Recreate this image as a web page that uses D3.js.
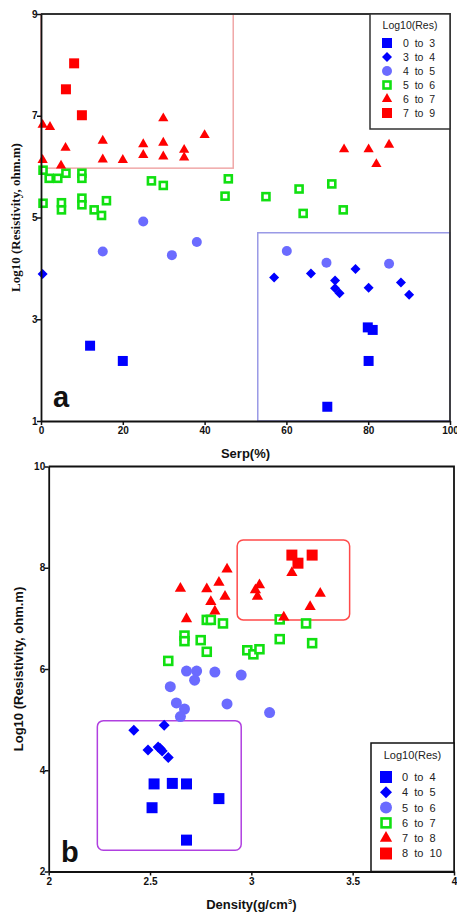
<!DOCTYPE html>
<html>
<head>
<meta charset="utf-8">
<script src="https://cdn.jsdelivr.net/npm/d3@7"></script>
<style>
  body { margin: 0; background: #fff; }
  text { font-family: Arial, "Liberation Sans", sans-serif; }
</style>
</head>
<body>
<svg class="figure" width="457" height="913"></svg>
<script>
// ---- panel a : Serp(%) vs Log10(Res)
var aLegend = ["0  to  3", "3  to  4", "4  to  5", "5  to  6", "6  to  7", "7  to  9"];
var aXTicks = [0, 20, 40, 60, 80, 100];
var aYTicks = [1, 3, 5, 7, 9];
var aRes0to3 = [[12, 2.48], [20, 2.18], [79.9, 2.84], [81.1, 2.79], [80.1, 2.18], [70, 1.28]];
var aRes3to4 = [[0.4, 3.89], [57, 3.82], [66, 3.9], [71.9, 3.76], [71.9, 3.61], [73, 3.51], [76.9, 3.99], [80.1, 3.62], [88, 3.72], [90, 3.48]];
var aRes4to5 = [[25, 4.92], [15.1, 4.33], [32, 4.26], [38.1, 4.52], [60.1, 4.34], [69.8, 4.11], [85.1, 4.09]];
var aRes5to6 = [[0.5, 5.93], [2, 5.77], [4.1, 5.77], [6.1, 5.87], [10, 5.87], [10, 5.77], [0.5, 5.28], [5, 5.29], [5, 5.15],
  [10, 5.38], [10, 5.25], [13, 5.15], [14.8, 5.04], [16, 5.33], [27, 5.72], [29.9, 5.63], [45.8, 5.76], [45, 5.42],
  [55, 5.41], [63.1, 5.56], [71.1, 5.66], [64.1, 5.08], [73.9, 5.15]];
var aRes6to7 = [[0.4, 6.82], [2.2, 6.78], [6, 6.37], [0.4, 6.13], [4.9, 6.02], [15.1, 6.51], [15.1, 6.14], [20, 6.13],
  [25, 6.44], [25, 6.23], [29.9, 6.95], [29.9, 6.47], [29.9, 6.2], [35, 6.33], [35, 6.18], [40, 6.62],
  [74.1, 6.34], [80.1, 6.34], [85.1, 6.43], [82, 6.05]];
var aRes7to9 = [[8.1, 8.03], [6.1, 7.52], [10, 7.01]];

// ---- panel b : Density vs Log10(Res)
var bLegend = ["0  to  4", "4  to  5", "5  to  6", "6  to  7", "7  to  8", "8  to  10"];
var bXTicks = [2, 2.5, 3, 3.5, 4];
var bYTicks = [2, 4, 6, 8, 10];
var bRes0to4 = [[2.52, 3.73], [2.61, 3.74], [2.68, 3.73], [2.51, 3.26], [2.68, 2.62], [2.84, 3.44]];
var bRes4to5 = [[2.42, 4.79], [2.57, 4.89], [2.49, 4.40], [2.54, 4.46], [2.56, 4.38], [2.59, 4.25], [2.55, 4.43]];
var bRes5to6 = [[2.68, 5.96], [2.73, 5.96], [2.82, 5.94], [2.72, 5.78], [2.60, 5.65], [2.63, 5.33], [2.67, 5.21],
  [2.65, 5.06], [2.88, 5.31], [2.95, 5.88], [3.09, 5.14]];
var bRes6to7 = [[2.59, 6.16], [2.67, 6.66], [2.67, 6.55], [2.75, 6.57], [2.78, 6.97], [2.80, 6.97], [2.86, 6.90],
  [2.78, 6.34], [3.14, 6.98], [3.27, 6.90], [3.14, 6.59], [3.30, 6.51], [2.98, 6.37], [3.01, 6.29], [3.04, 6.39]];
var bRes7to8 = [[2.65, 7.59], [2.78, 7.58], [2.84, 7.71], [2.88, 7.97], [2.87, 7.43], [2.80, 7.33], [2.82, 7.14],
  [2.68, 6.99], [3.20, 7.90], [3.04, 7.66], [3.02, 7.56], [3.03, 7.43], [3.34, 7.49], [3.29, 7.23], [3.16, 7.02]];
var bRes8to10 = [[3.20, 8.25], [3.30, 8.25], [3.23, 8.09]];

var BLUE = "#0000ff", LBLUE = "#6b6bff", GREEN = "#11e011", RED = "#ff0000";
var kinds = ["square", "diamond", "circle", "open", "triangle", "square"];
var colors = [BLUE, BLUE, LBLUE, GREEN, RED, RED];

var svg = d3.select(".figure");

// draw one marker at (cx, cy)
function marker(g, kind, color, cx, cy, s) {
  if (kind == "open") {
    var side = s * 0.95;
    g.append("rect")
      .attr("x", cx - side / 2 + 1.25).attr("y", cy - side / 2 + 1.25)
      .attr("width", side - 2.5).attr("height", side - 2.5)
      .attr("fill", "#fff").attr("stroke", color).attr("stroke-width", 2.6);
    return;
  }
  var sym, size, rot = 0;
  if (kind == "square") { sym = d3.symbolSquare; size = s * s; }
  if (kind == "diamond") { sym = d3.symbolSquare; size = s * s * 0.5; rot = 45; }
  if (kind == "circle") { sym = d3.symbolCircle; size = Math.PI * s * s / 4; }
  if (kind == "triangle") { sym = d3.symbolTriangle; size = Math.sqrt(3) / 4 * s * s * 1.05; }
  g.append("path")
    .attr("d", d3.symbol().type(sym).size(size)())
    .attr("transform", "translate(" + cx + "," + cy + ") rotate(" + rot + ")")
    .attr("fill", color);
}

function panel(opt) {
  var x = d3.scaleLinear().domain(opt.xdom).range([opt.left, opt.right]);
  var y = d3.scaleLinear().domain(opt.ydom).range([opt.bottom, opt.top]);
  var g = svg.append("g");

  // highlight boxes
  opt.boxes.forEach(b => {
    g.append("rect")
      .attr("x", x(b.x0)).attr("y", y(b.y1))
      .attr("width", x(b.x1) - x(b.x0)).attr("height", y(b.y0) - y(b.y1))
      .attr("rx", b.r).attr("fill", "none")
      .attr("stroke", b.c).attr("stroke-width", 1.5);
  });

  // frame top/right
  g.append("path")
    .attr("d", "M" + opt.left + "," + opt.top + "H" + opt.right + "V" + opt.bottom)
    .attr("fill", "none").attr("stroke", opt.frame).attr("stroke-width", 1.8);

  // points, lowest class first
  opt.series.forEach((ser, i) => {
    ser.forEach(p => marker(g, kinds[i], colors[i], x(p[0]), y(p[1]), opt.ms));
  });

  // axes
  var xa = g.append("g").attr("transform", "translate(0," + opt.bottom + ")")
    .call(d3.axisBottom(x).tickValues(opt.xticks).tickSize(4).tickSizeOuter(0).tickFormat(d3.format("")));
  var ya = g.append("g").attr("transform", "translate(" + opt.left + ",0)")
    .call(d3.axisLeft(y).tickValues(opt.yticks).tickSize(4).tickSizeOuter(0).tickFormat(d3.format("")));
  [xa, ya].forEach(a => {
    a.select(".domain").attr("stroke", "#111").attr("stroke-width", 1.8);
    a.selectAll(".tick line").attr("stroke", "#111").attr("stroke-width", 1.5);
    a.selectAll(".tick text").attr("fill", "#111").style("font-size", "10px").style("font-weight", "bold");
  });
  ya.selectAll(".tick text").attr("x", -3.5);
  xa.selectAll(".tick text").attr("y", 6);

  // legend
  var L = opt.legend;
  var lg = g.append("g");
  lg.append("rect").attr("x", L.x).attr("y", L.y).attr("width", L.w).attr("height", L.h)
    .attr("fill", "#fff").attr("stroke", opt.frame).attr("stroke-width", 1.5);
  lg.append("text").attr("x", L.x + L.w / 2).attr("y", L.y + L.ty).attr("text-anchor", "middle")
    .style("font-size", L.fs + "px").attr("fill", "#222").text("Log10(Res)");
  opt.labels.forEach((t, i) => {
    var cy = L.y + L.ey + i * L.dy;
    marker(lg, kinds[i], colors[i], L.x + L.sx, cy, L.ms);
    lg.append("text").attr("x", L.x + L.tx).attr("y", cy + L.fs * 0.36)
      .style("font-size", L.fs + "px").style("white-space", "pre").attr("fill", "#222").text(t);
  });

  // axis titles + panel letter
  g.append("text").attr("x", (opt.left + opt.right) / 2).attr("y", opt.xly)
    .attr("text-anchor", "middle").style("font-size", "13px").style("font-weight", "bold").attr("fill", "#111")
    .html(opt.xlabel);
  g.append("text").attr("transform", "translate(" + opt.ylx + "," + (opt.top + opt.bottom) / 2 + ") rotate(-90)")
    .attr("text-anchor", "middle").style("font-size", "13px").style("font-weight", "bold")
    .style("font-family", opt.yfont).attr("fill", "#111")
    .text("Log10 (Resistivity, ohm.m)");
  g.append("text").attr("x", opt.letter[0]).attr("y", opt.letter[1])
    .style("font-size", "29px").style("font-weight", "bold").attr("fill", "#111").text(opt.letter[2]);
}

panel({
  xdom: [0, 100], ydom: [1, 9], left: 41, right: 450, top: 14, bottom: 421,
  xticks: aXTicks, yticks: aYTicks, ms: 10, frame: "#333",
  series: [aRes0to3, aRes3to4, aRes4to5, aRes5to6, aRes6to7, aRes7to9],
  labels: aLegend,
  boxes: [{ x0: 0, x1: 47, y0: 5.97, y1: 9, r: 0, c: "#f0a8a8" },
          { x0: 53, x1: 100, y0: 1, y1: 4.7, r: 0, c: "#9a9ae6" }],
  legend: { x: 370, y: 14, w: 80, h: 115, ty: 15, ey: 29, dy: 14, sx: 17, tx: 33, fs: 10.5, ms: 10 },
  xlabel: "Serp(%)", xly: 458, ylx: 19.5, yfont: "'Liberation Serif', 'Times New Roman', serif",
  letter: [53, 407, "a"]
});

panel({
  xdom: [2, 4], ydom: [2, 10], left: 48.7, right: 454, top: 466.5, bottom: 871.5,
  xticks: bXTicks, yticks: bYTicks, ms: 11, frame: "#111",
  series: [bRes0to4, bRes4to5, bRes5to6, bRes6to7, bRes7to8, bRes8to10],
  labels: bLegend,
  boxes: [{ x0: 2.95 - 0.71, x1: 2.95, y0: 2.42, y1: 4.98, r: 6, c: "#b040e0" },
          { x0: 2.93, x1: 3.485, y0: 6.97, y1: 8.55, r: 6, c: "#ff4a4a" }],
  legend: { x: 371, y: 743, w: 83, h: 128.5, ty: 16, ey: 34, dy: 15.3, sx: 15, tx: 31, fs: 11, ms: 12 },
  xlabel: "Density(g/cm<tspan dy='-5' style='font-size:8px'>3</tspan><tspan dy='5'>)</tspan>",
  xly: 909, ylx: 23, yfont: "Arial, 'Liberation Sans', sans-serif",
  letter: [61, 862, "b"]
});
</script>
</body>
</html>
